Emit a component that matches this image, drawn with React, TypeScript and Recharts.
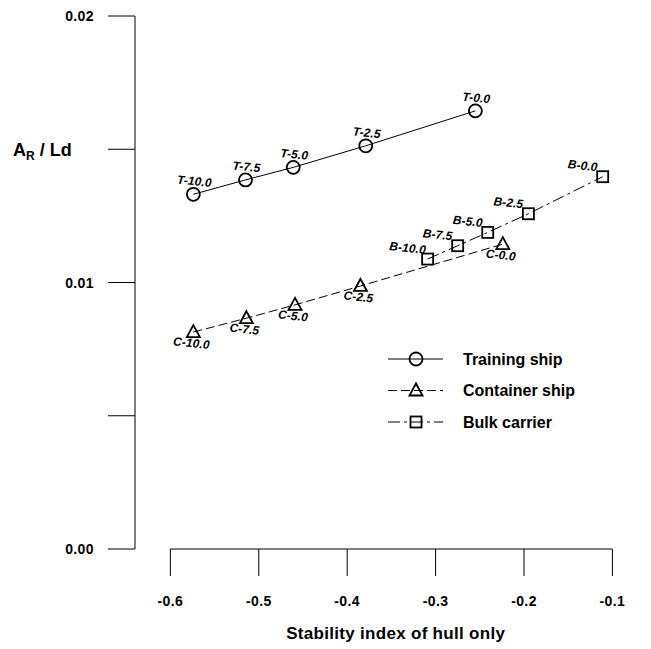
import { ScatterChart, Scatter, XAxis, YAxis, ReferenceLine, Legend } from 'recharts';

const FONT = '"Liberation Sans", Arial, sans-serif';

// axis ticks
const xTicks = [-0.6, -0.5, -0.4, -0.3, -0.2, -0.1];
const yTicks = [0, 0.005, 0.01, 0.015, 0.02];
const yLabelled = [0, 0.01, 0.02];

// Training ship
const trainingX = [-0.574, -0.515, -0.461, -0.379, -0.255];
const trainingY = [0.01331, 0.01385, 0.01432, 0.01513, 0.01644];
const trainingLabels = ['T-10.0', 'T-7.5', 'T-5.0', 'T-2.5', 'T-0.0'];

// Container ship
const containerX = [-0.574, -0.514, -0.459, -0.385, -0.224];
const containerY = [0.00814, 0.00866, 0.00916, 0.00987, 0.01144];
const containerLabels = ['C-10.0', 'C-7.5', 'C-5.0', 'C-2.5', 'C-0.0'];

// Bulk carrier
const bulkX = [-0.309, -0.275, -0.241, -0.195, -0.111];
const bulkY = [0.01088, 0.01138, 0.01188, 0.01258, 0.01397];
const bulkLabels = ['B-10.0', 'B-7.5', 'B-5.0', 'B-2.5', 'B-0.0'];

const toPoints = (xs: number[], ys: number[], labels: string[]) =>
  xs.map((x, i) => ({ x, y: ys[i], label: labels[i] }));

type Kind = 'circle' | 'triangle' | 'square';

const series = [
  { name: 'Training ship', data: toPoints(trainingX, trainingY, trainingLabels), kind: 'circle' as Kind, dash: undefined as string | undefined, lx: 1, ly: -13 },
  { name: 'Container ship', data: toPoints(containerX, containerY, containerLabels), kind: 'triangle' as Kind, dash: '9 4', lx: -2, ly: 11 },
  { name: 'Bulk carrier', data: toPoints(bulkX, bulkY, bulkLabels), kind: 'square' as Kind, dash: '12 4 3 4', lx: -20, ly: -11 },
];

function Marker({ kind, cx, cy }: { kind: Kind; cx: number; cy: number }) {
  const common = { fill: 'none', stroke: '#000', strokeWidth: 1.8 };
  if (kind === 'circle') return <circle cx={cx} cy={cy} r={6.5} {...common} />;
  if (kind === 'triangle')
    return <polygon points={`${cx},${cy - 7} ${cx + 6.5},${cy + 5} ${cx - 6.5},${cy + 5}`} {...common} />;
  return <rect x={cx - 5.5} y={cy - 5.5} width={11} height={11} {...common} />;
}

const XTick = (props: any) => {
  const { x, y, payload } = props;
  return (
    <text x={x} y={y + 25} textAnchor="middle" dominantBaseline="central"
      style={{ fontFamily: FONT, fontSize: 14, fontWeight: 'bold', letterSpacing: 0.4 }} fill="#000">
      {payload.value.toFixed(1)}
    </text>
  );
};

const YTick = (props: any) => {
  const { x, y, payload } = props;
  if (!yLabelled.includes(payload.value)) return <g />;
  return (
    <text x={x - 14} y={y} textAnchor="end" dominantBaseline="central"
      style={{ fontFamily: FONT, fontSize: 14, fontWeight: 'bold', letterSpacing: 0.4 }} fill="#000">
      {payload.value.toFixed(2)}
    </text>
  );
};

const renderLegend = () => (
  <svg width={220} height={100}>
    {series.map((s, i) => {
      const y = 14 + i * 31.5;
      return (
        <g key={s.name}>
          <line x1={0} x2={55} y1={y} y2={y} stroke="#000" strokeWidth={1} strokeDasharray={s.dash} />
          <Marker kind={s.kind} cx={28} cy={y} />
          <text x={75} y={y} dominantBaseline="central" fill="#000"
            style={{ fontFamily: FONT, fontSize: 16, fontWeight: 'bold' }}>
            {s.name}
          </text>
        </g>
      );
    })}
  </svg>
);

export default function App() {
  return (
    <ScatterChart width={643} height={641} margin={{ top: 8, right: 38.6, bottom: 0, left: 0 }}>
      <XAxis
        type="number"
        dataKey="x"
        domain={[-0.64, -0.1]}
        ticks={xTicks}
        interval={0}
        axisLine={false}
        tickLine={{ stroke: '#000', strokeWidth: 1 }}
        tickSize={27}
        tickMargin={0}
        tick={<XTick />}
        height={100}
        label={{
          content: (p: any) => {
            const vb = p.viewBox;
            return (
              <text x={vb.x + vb.width / 2 + 22} y={vb.y + 84} textAnchor="middle" dominantBaseline="central"
                fill="#000" style={{ fontFamily: FONT, fontSize: 17, fontWeight: 'bold', letterSpacing: 0.3 }}>
                Stability index of hull only
              </text>
            );
          },
        }}
      />
      <YAxis
        type="number"
        dataKey="y"
        domain={[0, 0.02]}
        ticks={yTicks}
        interval={0}
        width={127}
        axisLine={{ stroke: '#000', strokeWidth: 1 }}
        tickLine={{ stroke: '#000', strokeWidth: 1 }}
        tickSize={27}
        tickMargin={0}
        tick={<YTick />}
        label={{
          content: (p: any) => {
            const vb = p.viewBox;
            return (
              <text x={5} y={vb.y + vb.height * 0.25 + 6.5} fill="#000"
                style={{ fontFamily: FONT, fontSize: 18, fontWeight: 'bold' }}>
                A<tspan dy={4} fontSize={12}>R</tspan>
                <tspan dy={-4}> / Ld</tspan>
              </text>
            );
          },
        }}
      />
      <ReferenceLine segment={[{ x: -0.6, y: 0 }, { x: -0.1, y: 0 }]} stroke="#000" strokeWidth={1} ifOverflow="visible" />
      {series.map((s) => (
        <Scatter
          key={s.name}
          name={s.name}
          data={s.data}
          isAnimationActive={false}
          line={{ stroke: '#000', strokeWidth: 1, strokeDasharray: s.dash }}
          lineType="joint"
          shape={(p: any) => (
            <g>
              <Marker kind={s.kind} cx={p.cx} cy={p.cy} />
              <text
                x={p.cx + s.lx}
                y={p.cy + s.ly}
                textAnchor="middle"
                dominantBaseline="central"
                transform={`rotate(6 ${p.cx + s.lx} ${p.cy + s.ly})`}
                fill="#000"
                style={{ fontFamily: FONT, fontSize: 12, fontWeight: 'bold', fontStyle: 'italic', letterSpacing: 0.1 }}
              >
                {p.payload.label}
              </text>
            </g>
          )}
        />
      ))}
      <Legend
        layout="vertical"
        align="center"
        verticalAlign="middle"
        content={renderLegend}
        wrapperStyle={{ position: 'absolute', left: 380, top: 337, width: 220, height: 100 }}
      />
    </ScatterChart>
  );
}
